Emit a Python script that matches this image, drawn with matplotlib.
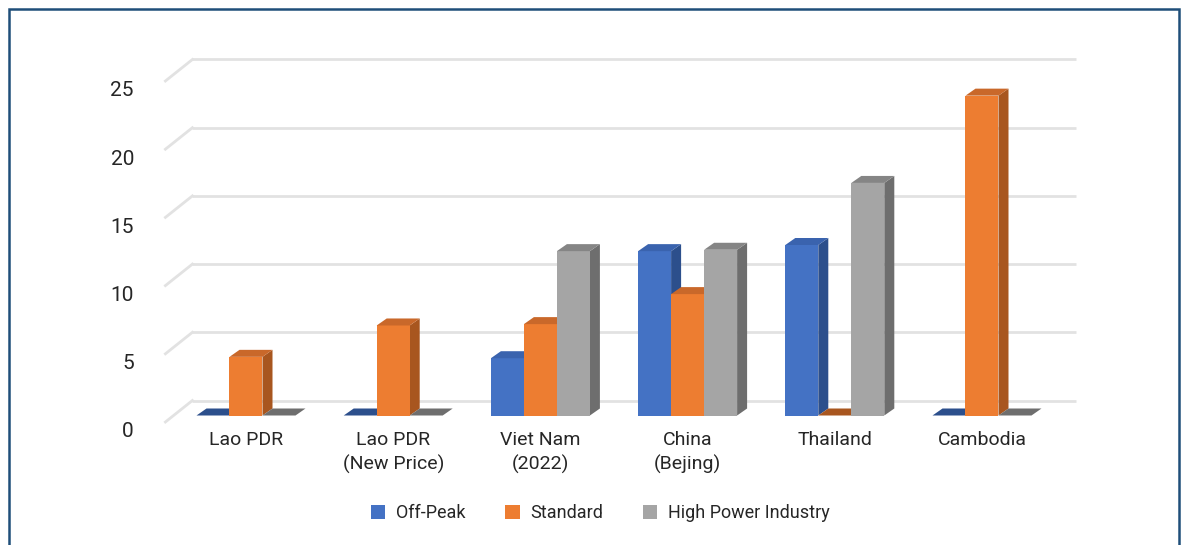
import matplotlib
matplotlib.use("Agg")
import matplotlib.pyplot as plt
from matplotlib.patches import Polygon, Rectangle, Patch

categories = ["Lao PDR", "Lao PDR\n(New Price)", "Viet Nam\n(2022)",
              "China\n(Bejing)", "Thailand", "Cambodia"]
series_names = ["Off-Peak", "Standard", "High Power Industry"]
off_peak = [0, 0, 4.2, 12.05, 12.5, 0]
standard = [4.3, 6.6, 6.7, 8.9, 0, 23.45]
high_power = [0, 0, 12.05, 12.15, 17.05, 0]
y_ticks = [0, 5, 10, 15, 20, 25]

# colours: front, side, top
colors = {
    "Off-Peak": ("#4472C4", "#2C4F8C", "#3A63AE"),
    "Standard": ("#ED7D31", "#A8561F", "#C9682A"),
    "High Power Industry": ("#A5A5A5", "#6E6E6E", "#858585"),
}

plt.rcParams['font.family'] = ['Roboto', 'DejaVu Sans']
TXT = "#262626"

W, H = 1184, 545
fig = plt.figure(figsize=(W / 100, H / 100), dpi=100)
ax = fig.add_axes([0, 0, 1, 1])
ax.set_axis_off()

# layout (pixels) -> data units
x0_px, cat_px = 246, 147.2       # first category centre, category spacing
base_px, unit_px = 415.5, 13.64  # y pixel of value 0 (bar front), px per unit
ax.set_xlim(-x0_px / cat_px, (W - x0_px) / cat_px)
ax.set_ylim((base_px - H) / unit_px, base_px / unit_px)

bw = 33 / cat_px                        # bar width
bdx, bdy = 10 / cat_px, 7 / unit_px     # bar depth
wdx, wdy = 20 / cat_px, 15 / unit_px    # back wall offset
fdx, fdy = 27 / cat_px, 21.5 / unit_px  # floor diagonal length

# back wall grid lines
wall_l, wall_r = -0.5, len(categories) - 0.5
for v in y_ticks:
    ax.plot([wall_l + wdx, wall_r + wdx], [v + wdy, v + wdy],
            color="#E2E2E2", lw=2, zorder=1, solid_capstyle="butt")
    ax.plot([wall_l + wdx - fdx, wall_l + wdx], [v + wdy - fdy, v + wdy],
            color="#E2E2E2", lw=2, zorder=1)
    ax.text(-112 / cat_px, v - 1.2, str(v), ha="right", va="center",
            fontsize=15, color=TXT)

# bars
all_series = [off_peak, standard, high_power]
for i in range(len(categories)):
    for j, (name, vals) in enumerate(zip(series_names, all_series)):
        v = vals[i]
        front, side, top = colors[name]
        x = i - 1.5 * bw + j * bw
        if v > 0:
            ax.add_patch(Polygon([(x + bw, 0), (x + bw + bdx, bdy),
                                  (x + bw + bdx, v + bdy), (x + bw, v)],
                                 closed=True, fc=side, ec="none", zorder=3))
            ax.add_patch(Rectangle((x, 0), bw, v, fc=front, ec="none", zorder=3))
        ax.add_patch(Polygon([(x, v), (x + bw, v), (x + bw + bdx, v + bdy),
                              (x + bdx, v + bdy)],
                             closed=True, fc=top if v > 0 else side, ec="none", zorder=3))

# category labels
for i, c in enumerate(categories):
    ax.text(i, -1.15, c, ha="center", va="top", fontsize=14, color=TXT,
            linespacing=1.4)

handles = [Patch(fc=colors[n][0], ec="none") for n in series_names]
fig.legend(handles, series_names, loc="center", bbox_to_anchor=(0.507, 1 - 513 / H),
           ncol=3, frameon=False, handlelength=0.8, handleheight=0.8,
           handletextpad=0.6, columnspacing=2.2, labelcolor=TXT,
           prop={"size": 13})

# outer frame
fig.add_artist(Rectangle((8.5 / W, -0.05), (1179 - 8.5) / W, 1.05 - 9.5 / H,
                         transform=fig.transFigure, fill=False,
                         ec="#1F4E79", lw=1.8))

fig.savefig("out.png", dpi=100)
